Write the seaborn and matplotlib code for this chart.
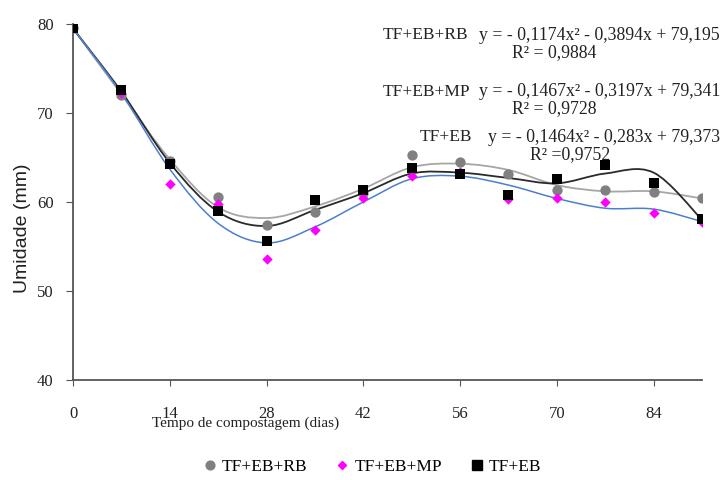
import numpy as np
import pandas as pd
import matplotlib
matplotlib.use('Agg')
import matplotlib.pyplot as plt
from matplotlib.path import Path
from matplotlib.patches import PathPatch
from matplotlib.lines import Line2D
import seaborn as sns

# Observed values (days of composting vs moisture)
dias = [0, 7, 14, 21, 28, 35, 42, 49, 56, 63, 70, 77, 84, 91]
rb_obs = [79.5, 72.0, 64.6, 60.6, 57.4, 58.9, 61.0, 65.3, 64.5, 63.2, 61.3, 61.3, 61.1, 60.4]
mp_obs = [79.5, 72.2, 62.0, 59.8, 53.6, 56.9, 60.4, 62.9, 63.4, 60.3, 60.4, 60.0, 58.8, 57.7]
eb_obs = [79.5, 72.6, 64.3, 59.0, 55.6, 60.2, 61.3, 63.8, 63.2, 60.8, 62.6, 64.2, 62.1, 58.1]

# Smoothed trend lines at the same days
rb_fit = [79.5, 72.1, 64.8, 59.4, 58.2, 59.5, 61.5, 63.9, 64.3, 63.6, 61.9, 61.2, 61.2, 60.4]
mp_fit = [79.5, 72.2, 63.7, 57.6, 55.4, 57.2, 60.0, 62.6, 62.9, 61.9, 60.4, 59.3, 59.2, 57.8]
eb_fit = [79.5, 72.4, 64.4, 58.9, 57.3, 59.1, 61.0, 63.2, 63.3, 62.7, 62.1, 63.2, 63.3, 58.0]

labels = ['TF+EB+RB', 'TF+EB+MP', 'TF+EB']
equations = ['y = - 0,1174x² - 0,3894x + 79,195',
             'y = - 0,1467x² - 0,3197x + 79,341',
             'y = - 0,1464x² - 0,283x + 79,373']
r2 = ['R² = 0,9884', 'R² = 0,9728', 'R² =0,9752']

W, H = 724, 480
fig = plt.figure(figsize=(W / 100, H / 100), dpi=100)
ax = fig.add_axes([73 / W, 1 - 380 / H, (702 - 73) / W, (380 - 24) / H])
serif = 'Liberation Serif'


def smooth_path(xs, ys):
    # excel-like smoothed line: cubic bezier segments through the nodes
    pts = np.column_stack([xs, ys]).astype(float)
    p = np.vstack([pts[0], pts, pts[-1]])
    verts = [pts[0]]
    codes = [Path.MOVETO]
    for i in range(1, len(p) - 2):
        c1 = p[i] + (p[i + 1] - p[i - 1]) / 6
        c2 = p[i + 1] - (p[i + 2] - p[i]) / 6
        verts += [c1, c2, p[i + 1]]
        codes += [Path.CURVE4] * 3
    return Path(verts, codes)


for fit, col, lw in [(rb_fit, '#a6a6a6', 1.3), (eb_fit, '#2a2a2a', 1.3), (mp_fit, '#4a7fd0', 1.1)]:
    ax.add_patch(PathPatch(smooth_path(dias, fit), facecolor='none', edgecolor=col, lw=lw, zorder=2))

df = pd.DataFrame({'dias': dias * 3,
                   'umidade': rb_obs + mp_obs + eb_obs,
                   'trat': [labels[0]] * 14 + [labels[1]] * 14 + [labels[2]] * 14})
styles = {'TF+EB+RB': ('o', '#808080', 55), 'TF+EB+MP': ('D', '#ff00ff', 28), 'TF+EB': ('s', '#000000', 60)}
for lab in labels:
    m, c, s = styles[lab]
    sns.scatterplot(data=df[df['trat'] == lab], x='dias', y='umidade', marker=m, color=c,
                    s=s, linewidth=0, ax=ax, zorder=3, legend=False)

ax.set_xlim(0, 91)
ax.set_ylim(40, 80)
ax.set_xticks([0, 14, 28, 42, 56, 70, 84])
ax.set_yticks([40, 50, 60, 70, 80])
ax.set_xlabel('')
ax.set_ylabel('')
for s in ['top', 'right']:
    ax.spines[s].set_visible(False)
for s in ['left', 'bottom']:
    ax.spines[s].set_color('#555555')
    ax.spines[s].set_linewidth(1.3)
ax.tick_params(axis='x', direction='out', length=4, pad=15, colors='#555555', labelcolor='#222222')
ax.tick_params(axis='y', direction='out', length=5, pad=9, colors='#555555', labelcolor='#222222')
for t in ax.get_xticklabels() + ax.get_yticklabels():
    t.set_fontfamily(serif)
    t.set_fontsize(12)

fig.text(23 / W, 1 - 228 / H, 'Umidade (mm)', rotation=90, ha='center', va='center',
         fontsize=14, family='Liberation Sans', color='#222222')
fig.text(246 / W, 1 - 423 / H, 'Tempo de compostagem (dias)', ha='center', va='center',
         fontsize=11, family=serif, color='#222222')

# regression equations
eq_rows = [(383, 35, 53, 554), (383, 92, 109, 554), (420, 137, 155, 570)]
for (xl, ye, yr, xr), lab, eq, rr in zip(eq_rows, labels, equations, r2):
    fig.text(xl / W, 1 - ye / H, lab, ha='left', va='center', fontsize=12.5, family=serif, color='#222222')
    fig.text(720 / W, 1 - ye / H, eq, ha='right', va='center', fontsize=12.8, family=serif, color='#222222')
    fig.text(xr / W, 1 - yr / H, rr, ha='center', va='center', fontsize=12.8, family=serif, color='#222222')

handles = [Line2D([], [], marker=styles[l][0], color=styles[l][1], ls='none',
                  markersize=np.sqrt(styles[l][2]) * 0.85) for l in labels]
fig.legend(handles, labels, loc='center', bbox_to_anchor=(372 / W, 1 - 467 / H), ncol=3,
           frameon=False, prop={'family': serif, 'size': 12.5}, handletextpad=0.3,
           columnspacing=1.6, handlelength=0.8)

fig.savefig('out.png', dpi=100)
